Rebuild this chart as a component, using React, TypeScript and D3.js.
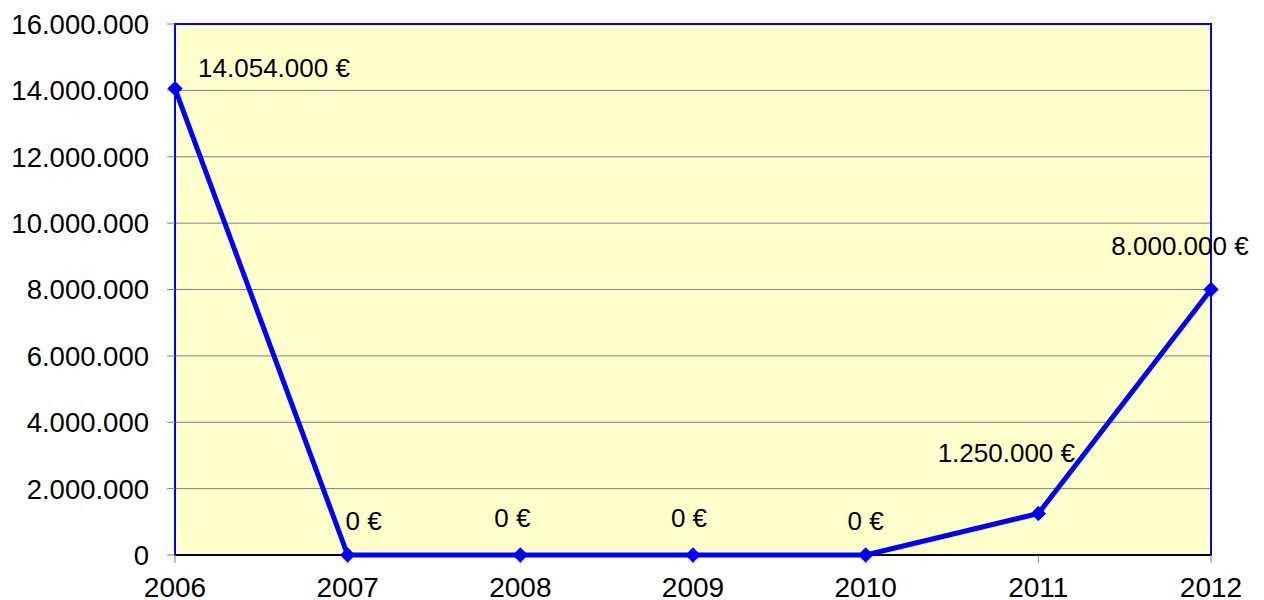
import React, { useEffect, useRef } from "react";
import * as d3 from "d3";

const years = ["2006", "2007", "2008", "2009", "2010", "2011", "2012"];
const amounts = [14054000, 0, 0, 0, 0, 1250000, 8000000];
const yTicks = [0, 2000000, 4000000, 6000000, 8000000, 10000000, 12000000, 14000000, 16000000];
// label centre offsets from each point (dx, dy)
const labelOffsets = [
  [99, -21],
  [16, -34],
  [-8, -37],
  [-4, -37],
  [0, -34],
  [-32, -61],
  [-31, -44],
];

const W = 1264;
const H = 600;
const margin = { top: 24, right: 53, bottom: 45, left: 175 };

const fmt = (v: number) => d3.format(",")(v).replace(/,/g, ".");

export default function App() {
  const ref = useRef<SVGSVGElement>(null);

  useEffect(() => {
    const svg = d3.select(ref.current);
    svg.selectAll("*").remove();
    const font = "'Liberation Sans', Arial, sans-serif";

    const x = d3
      .scalePoint()
      .domain(years)
      .range([margin.left, W - margin.right]);
    const y = d3
      .scaleLinear()
      .domain([0, 16000000])
      .range([H - margin.bottom, margin.top]);

    // plot area
    svg
      .append("rect")
      .attr("x", margin.left)
      .attr("y", margin.top)
      .attr("width", W - margin.left - margin.right)
      .attr("height", H - margin.top - margin.bottom)
      .attr("fill", "#FFFFCC");

    // gridlines
    svg
      .append("g")
      .selectAll("line")
      .data(yTicks.slice(1))
      .join("line")
      .attr("x1", margin.left)
      .attr("x2", W - margin.right)
      .attr("y1", (d) => y(d))
      .attr("y2", (d) => y(d))
      .attr("stroke", "#808080")
      .attr("stroke-width", 1);

    // frame
    svg
      .append("rect")
      .attr("x", margin.left)
      .attr("y", margin.top)
      .attr("width", W - margin.left - margin.right)
      .attr("height", H - margin.top - margin.bottom)
      .attr("fill", "none")
      .attr("stroke", "#0000FF")
      .attr("stroke-width", 2);

    // y axis ticks + labels
    const yg = svg.append("g");
    yg.selectAll("line")
      .data(yTicks)
      .join("line")
      .attr("x1", margin.left - 8)
      .attr("x2", margin.left)
      .attr("y1", (d) => y(d))
      .attr("y2", (d) => y(d))
      .attr("stroke", "#808080");
    yg.selectAll("text")
      .data(yTicks)
      .join("text")
      .attr("x", margin.left - 26)
      .attr("y", (d) => y(d))
      .attr("dy", "0.36em")
      .attr("text-anchor", "end")
      .attr("font-family", font)
      .attr("font-size", 27.5)
      .attr("fill", "#000")
      .text((d) => fmt(d));

    // x axis
    const xg = svg.append("g");
    xg.append("line")
      .attr("x1", margin.left)
      .attr("x2", W - margin.right)
      .attr("y1", y(0))
      .attr("y2", y(0))
      .attr("stroke", "#000")
      .attr("stroke-width", 2);
    xg.selectAll("line.tick")
      .data(years)
      .join("line")
      .attr("class", "tick")
      .attr("x1", (d) => x(d)!)
      .attr("x2", (d) => x(d)!)
      .attr("y1", y(0))
      .attr("y2", y(0) + 8)
      .attr("stroke", "#808080");
    xg.selectAll("text")
      .data(years)
      .join("text")
      .attr("x", (d) => x(d)!)
      .attr("y", H - 3)
      .attr("text-anchor", "middle")
      .attr("font-family", font)
      .attr("font-size", 28)
      .attr("fill", "#000")
      .text((d) => d);

    const pts = years.map((yr, i) => ({ yr, v: amounts[i], i }));

    // line
    const line = d3
      .line<{ yr: string; v: number }>()
      .x((d) => x(d.yr)!)
      .y((d) => y(d.v));
    svg
      .append("path")
      .datum(pts)
      .attr("d", line)
      .attr("fill", "none")
      .attr("stroke", "#0000FF")
      .attr("stroke-width", 5)
      .attr("stroke-linejoin", "round");

    // markers
    svg
      .append("g")
      .selectAll("path")
      .data(pts)
      .join("path")
      .attr("transform", (d) => `translate(${x(d.yr)},${y(d.v)})`)
      .attr("d", d3.symbol(d3.symbolDiamond2, 150)())
      .attr("fill", "#0000FF");

    // data labels
    svg
      .append("g")
      .selectAll("text")
      .data(pts)
      .join("text")
      .attr("x", (d) => x(d.yr)! + labelOffsets[d.i][0])
      .attr("y", (d) => y(d.v) + labelOffsets[d.i][1])
      .attr("dy", "0.36em")
      .attr("text-anchor", "middle")
      .attr("font-family", font)
      .attr("font-size", 26)
      .attr("fill", "#000")
      .text((d) => fmt(d.v) + " €");
  }, []);

  return (
    <div style={{ position: "absolute", left: 0, top: 0 }}>
      <svg ref={ref} width={W} height={H} style={{ display: "block" }} />
    </div>
  );
}
